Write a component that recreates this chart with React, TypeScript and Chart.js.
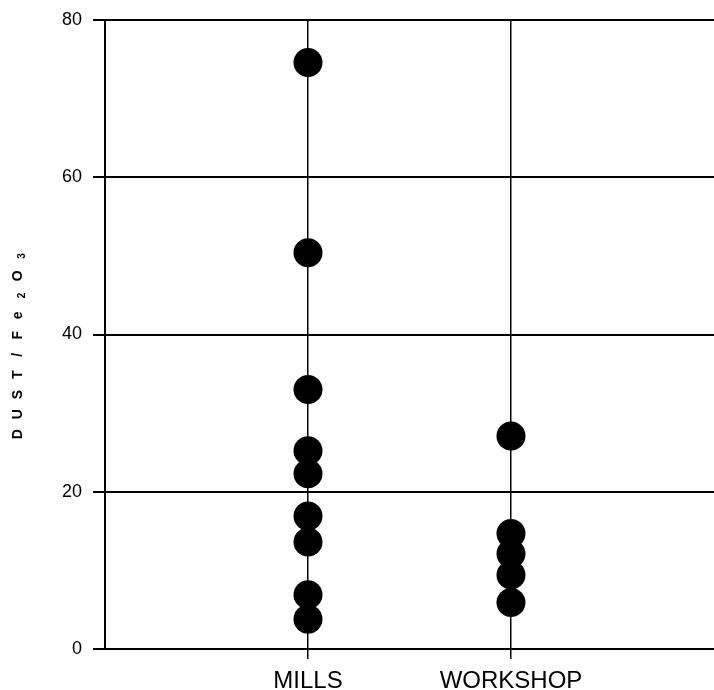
import React, { useEffect, useRef } from "react";
import { Chart, registerables } from "chart.js";

Chart.register(...registerables);

// Sampling sites along the x axis
const categories = ["MILLS", "WORKSHOP"];
// DUST / Fe2O3 ratio measured at each site
const millsValues = [74.6, 50.4, 33.0, 25.2, 22.3, 16.9, 13.6, 6.9, 3.8];
const workshopValues = [27.1, 14.7, 12.1, 9.4, 5.9];
// Y axis tick values
const yTicks = [0, 20, 40, 60, 80];

// Axis title pieces: subscripts drawn smaller and lowered
const yTitleGlyphs: { t: string; sub?: boolean }[] = [
  { t: "D" }, { t: "U" }, { t: "S" }, { t: "T" }, { t: "/" },
  { t: "F" }, { t: "e" }, { t: "2", sub: true }, { t: "O" }, { t: "3", sub: true },
];

const FONT = "'Liberation Sans', Arial, Helvetica, sans-serif";

const yTitlePlugin = {
  id: "spacedYTitle",
  afterDraw(chart: Chart) {
    const ctx = chart.ctx;
    const pitch = 19.8;
    const cx = 18;
    const cy = 345;
    ctx.save();
    ctx.translate(cx, cy);
    ctx.rotate(-Math.PI / 2);
    ctx.fillStyle = "#000";
    ctx.textAlign = "center";
    ctx.textBaseline = "middle";
    const start = -((yTitleGlyphs.length - 1) * pitch) / 2;
    yTitleGlyphs.forEach((g, i) => {
      ctx.font = g.sub ? `bold 10px ${FONT}` : `bold 14px ${FONT}`;
      ctx.fillText(g.t, start + i * pitch, g.sub ? 4 : 0);
    });
    ctx.restore();
  },
};

export default function App() {
  const canvasRef = useRef<HTMLCanvasElement | null>(null);

  useEffect(() => {
    const canvas = canvasRef.current;
    if (!canvas) return;
    const toPoints = (vals: number[], idx: number) =>
      vals.map((v) => ({ x: idx + 1, y: v }));

    const chart = new Chart(canvas, {
      type: "scatter",
      data: {
        datasets: [
          {
            label: categories[0],
            data: toPoints(millsValues, 0),
            backgroundColor: "#000",
            borderColor: "#000",
            pointRadius: 14.5,
            pointHoverRadius: 14.5,
            borderWidth: 0,
            clip: false,
          },
          {
            label: categories[1],
            data: toPoints(workshopValues, 1),
            backgroundColor: "#000",
            borderColor: "#000",
            pointRadius: 14.5,
            pointHoverRadius: 14.5,
            borderWidth: 0,
            clip: false,
          },
        ],
      },
      options: {
        animation: false,
        responsive: false,
        maintainAspectRatio: false,
        layout: { autoPadding: false, padding: { top: 20, right: 0, left: 0, bottom: 0 } },
        plugins: {
          legend: { display: false },
          tooltip: { enabled: false },
          title: { display: false },
        },
        scales: {
          x: {
            type: "linear",
            min: 0,
            max: categories.length + 1,
            afterBuildTicks: (scale: any) => {
              scale.ticks = [0, 1, 2, 3].map((v) => ({ value: v }));
            },
            afterFit: (scale: any) => {
              scale.height = 41;
              scale.paddingLeft = 0;
              scale.paddingRight = 0;
            },
            ticks: {
              color: "#000",
              font: { family: FONT, size: 24 },
              padding: 8,
              maxRotation: 0,
              autoSkip: false,
              callback: (v: any) => categories[Number(v) - 1] ?? "",
            },
            grid: {
              color: (c: any) =>
                c.tick && c.tick.value >= 1 && c.tick.value <= categories.length
                  ? "#000"
                  : "rgba(0,0,0,0)",
              lineWidth: 1.5,
              tickLength: 10,
            },
            border: { display: true, color: "#000", width: 2 },
          },
          y: {
            min: 0,
            max: 80,
            afterBuildTicks: (scale: any) => {
              scale.ticks = yTicks.map((v) => ({ value: v }));
            },
            afterFit: (scale: any) => {
              scale.width = 105;
              scale.paddingTop = 0;
              scale.paddingBottom = 0;
            },
            ticks: {
              color: "#000",
              font: { family: FONT, size: 18 },
              padding: 11,
            },
            grid: {
              color: "#000",
              lineWidth: 2,
              tickLength: 12,
            },
            border: { display: true, color: "#000", width: 2 },
          },
        },
      },
      plugins: [yTitlePlugin],
    });

    return () => chart.destroy();
  }, []);

  return (
    <div
      style={{
        position: "absolute",
        left: 0,
        top: 0,
        width: 714,
        height: 690,
        overflow: "hidden",
        background: "#fff",
      }}
    >
      <canvas ref={canvasRef} width={714} height={690} style={{ display: "block" }} />
    </div>
  );
}
